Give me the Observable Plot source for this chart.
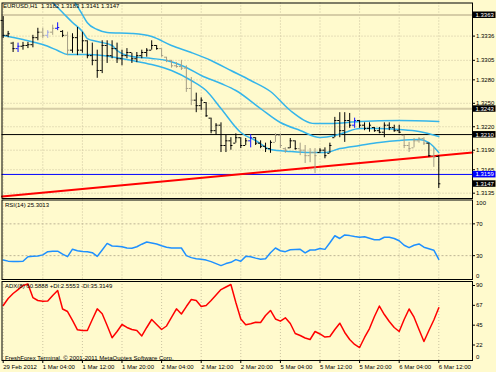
<!DOCTYPE html>
<html><head><meta charset="utf-8">
<script src="https://cdn.jsdelivr.net/npm/d3@7"></script>
<script src="https://cdn.jsdelivr.net/npm/@observablehq/plot@0.6"></script>
<style>
html,body{margin:0;padding:0;background:#fffacd;}
#chart{width:496px;height:372px;overflow:hidden;font-family:"Liberation Sans",Arial,sans-serif;}
#chart svg{display:block;}
</style></head><body><div id="chart"></div>
<script>
// ---------- data ----------
const timeLabels = ["29 Feb 2012","1 Mar 04:00","1 Mar 12:00","1 Mar 20:00","2 Mar 04:00","2 Mar 12:00","2 Mar 20:00","5 Mar 04:00","5 Mar 12:00","5 Mar 20:00","6 Mar 04:00","6 Mar 12:00"];
const high = [1.3361,1.3342,1.3328,1.3327,1.3328,1.3328,1.3337,1.3346,1.3346,1.3343,1.3350,1.3353,1.3343,1.3341,1.3339,1.3347,1.3341,1.3330,1.3327,1.3318,1.3330,1.3330,1.3330,1.3327,1.3318,1.3320,1.3314,1.3315,1.3318,1.3320,1.3330,1.3324,1.3320,1.3309,1.3305,1.3302,1.3305,1.3298,1.3283,1.3263,1.3257,1.3251,1.3231,1.3224,1.3225,1.3209,1.3206,1.3211,1.3206,1.3205,1.3210,1.3206,1.3202,1.3199,1.3202,1.3211,1.3211,1.3193,1.3205,1.3202,1.3199,1.3196,1.3192,1.3192,1.3192,1.3193,1.3199,1.3232,1.3238,1.3238,1.3237,1.3231,1.3228,1.3225,1.3225,1.3219,1.3219,1.3225,1.3225,1.3222,1.3222,1.3209,1.3200,1.3205,1.3206,1.3206,1.3199,1.3193,1.3183];
const low  = [1.3333,1.3334,1.3315,1.3315,1.3318,1.3320,1.3321,1.3330,1.3333,1.3333,1.3337,1.3343,1.3334,1.3311,1.3314,1.3311,1.3314,1.3307,1.3298,1.3282,1.3288,1.3301,1.3307,1.3301,1.3298,1.3307,1.3301,1.3302,1.3307,1.3309,1.3318,1.3318,1.3309,1.3302,1.3295,1.3295,1.3292,1.3264,1.3247,1.3238,1.3241,1.3232,1.3211,1.3209,1.3187,1.3187,1.3190,1.3199,1.3192,1.3196,1.3193,1.3196,1.3192,1.3187,1.3186,1.3200,1.3192,1.3186,1.3192,1.3190,1.3183,1.3173,1.3174,1.3160,1.3186,1.3179,1.3186,1.3206,1.3206,1.3200,1.3218,1.3218,1.3218,1.3215,1.3213,1.3213,1.3211,1.3206,1.3215,1.3213,1.3211,1.3192,1.3187,1.3193,1.3199,1.3196,1.3181,1.3168,1.3141];
const open = [1.3356,1.3337,1.3327,1.3320,1.3323,1.3324,1.3325,1.3334,1.3341,1.3337,1.3341,1.3346,1.3342,1.3337,1.3318,1.3334,1.3318,1.3330,1.3311,1.3305,1.3292,1.3324,1.3311,1.3320,1.3307,1.3311,1.3315,1.3307,1.3311,1.3315,1.3318,1.3324,1.3320,1.3309,1.3305,1.3298,1.3297,1.3295,1.3269,1.3254,1.3247,1.3251,1.3231,1.3215,1.3222,1.3196,1.3202,1.3199,1.3206,1.3196,1.3202,1.3206,1.3199,1.3195,1.3192,1.3200,1.3209,1.3192,1.3193,1.3202,1.3192,1.3190,1.3183,1.3187,1.3187,1.3190,1.3186,1.3206,1.3228,1.3215,1.3228,1.3222,1.3228,1.3222,1.3218,1.3219,1.3215,1.3213,1.3222,1.3219,1.3215,1.3209,1.3196,1.3193,1.3202,1.3205,1.3199,1.3183,1.3182];
const close = [1.3337,1.3339,1.3320,1.3323,1.3324,1.3325,1.3334,1.3341,1.3337,1.3341,1.3346,1.3347,1.3337,1.3318,1.3334,1.3318,1.3330,1.3311,1.3305,1.3292,1.3324,1.3311,1.3320,1.3307,1.3311,1.3315,1.3307,1.3311,1.3315,1.3318,1.3324,1.3320,1.3311,1.3305,1.3298,1.3297,1.3295,1.3269,1.3254,1.3247,1.3254,1.3234,1.3215,1.3222,1.3196,1.3202,1.3196,1.3206,1.3196,1.3202,1.3206,1.3199,1.3195,1.3192,1.3200,1.3209,1.3196,1.3190,1.3202,1.3192,1.3190,1.3183,1.3187,1.3183,1.3190,1.3183,1.3196,1.3228,1.3215,1.3228,1.3222,1.3228,1.3222,1.3218,1.3222,1.3215,1.3213,1.3222,1.3219,1.3215,1.3213,1.3196,1.3192,1.3202,1.3205,1.3199,1.3183,1.3181,1.3147];
const barColor = "kkkbkkkkglgbkgkkkkkkkkkkkkkkkkkkgggggggkkkkkkkkkkkbkkkkgggkkggggkkkkkkkbkkkkkkkkkgggggkgk".split("");
const upperBand = [[14,1.33841],[16,1.33636],[17,1.33530],[19,1.33444],[21,1.33406],[26,1.33393],[30,1.33355],[34,1.33240],[38,1.33150],[42,1.33048],[46,1.32920],[50,1.32792],[54,1.32651],[58,1.32408],[63,1.32241],[66,1.32241],[72,1.32267],[80,1.32280],[88,1.32267]];
const middleBand = [[9,1.33854],[10,1.33790],[12,1.33662],[14,1.33534],[16,1.33419],[17,1.33329],[19,1.33291],[22,1.33240],[23,1.33176],[26,1.33099],[30,1.33074],[33,1.33048],[37,1.32958],[40,1.32856],[44,1.32753],[47,1.32664],[52,1.32433],[56,1.32254],[60,1.32152],[64,1.32062],[67,1.32088],[69,1.32126],[72,1.32177],[76,1.32177],[80,1.32164],[84,1.32139],[88,1.32075]];
const lowerBand = [[0,1.33368],[4,1.33316],[8,1.33252],[11,1.33176],[13,1.33124],[17,1.33124],[20,1.33112],[26,1.33048],[30,1.32996],[34,1.32920],[38,1.32792],[41,1.32664],[44,1.32433],[48,1.32126],[51,1.32024],[54,1.31908],[58,1.31883],[62,1.31870],[65,1.31870],[68,1.31921],[72,1.31960],[76,1.31998],[80,1.32024],[84,1.32036],[86,1.31998],[88,1.31870]];
const trendAnchors = [[0,1.3131],[88,1.3183]];
const priceTicks = [1.3336,1.3305,1.3280,1.3250,1.3220,1.3190,1.3165,1.3135];
const tanLevels = [1.3363,1.3243];
const blackLevel = 1.3210;
const blueLevel = 1.3159;
const lastPrice = 1.3147;
const rsi = [24.4,23.1,22.5,22.5,23,28.7,29.2,29.5,31,35,35.6,35.6,31.9,28.7,38.1,36.2,35.2,35,33.7,29.1,37.1,45.4,42.1,41.9,41.2,39.6,39.4,41.2,44.4,47.1,45.9,44.6,42.5,40.6,39.6,39.6,39.6,30,27.5,26.2,25.6,24.4,22.5,20,17.5,20,21.6,25,22.9,29.1,28.7,26.9,25.6,26.2,33.7,39.6,36.2,35,37.5,37.7,37.9,33.4,37.1,37.1,39.1,37.9,46.2,55,51.6,56,55.2,54,53,53.7,51.9,50,50,53.1,53.1,51.6,48.7,43.1,40,43.1,44.7,40.6,38.7,36.9,25.3];
const rsiHeader = "RSI(14) 25.3013";
const adx = [63.2,71.2,76.9,81.4,86.0,87.7,72.3,68.9,68.1,68.3,74.6,80.3,59.2,56.3,46.1,35.4,34.6,34.6,47.2,59.4,53.7,40.4,26.3,33.5,41.5,38.1,35.8,34.6,28.4,38.1,47.2,41.5,35.8,39.8,49.5,59.4,53.5,62.0,70.0,68.9,62.0,63.2,68.9,75.2,81.4,84.3,87.2,66.6,47.8,41.2,42.3,44.1,43.8,51.8,57.5,47.8,45.3,49.1,42.6,31.2,28.9,26.1,24.4,33.5,30.7,27.2,27.8,35.8,43.0,32.4,24.4,18.7,15.2,26.7,36.9,50.6,62.6,52.9,44.9,38.1,33.5,47.2,59.2,49.8,35.8,22.1,34.6,46.6,60.6];
const adxHeader = "ADX(8) 60.5888 +DI:2.5553 -DI:35.3149";
const copyright = "FreshForex Terminal. © 2001-2011 MetaQuotes Software Corp.";
const rsiLevels = [70,30];
const adxTicks = [90.6,67.95,45.3,22.65];
const adxMin = 0.4;

// ---------- styles ----------
const GRID = "#cbc3a0", TAN = "#d6cda6", BAND = "#35b5ea";
const colorOf = {k:"#000000", g:"#a59e86", b:"#1010ff", l:"#9ea6e6"};
const FONT = 6;
const W = 496, ML = 1.5, MR = 24;
const xDomain = [-0.2424, 94.81];
const timeTicks = d3.range(0, 89, 8);
const fmt4 = d3.format(".4f");

function tagMark(items) {
  return (index, scales, values, dims) => {
    const g = d3.create("svg:g");
    const x0 = dims.width - dims.marginRight + 0.5;
    for (const t of items) {
      const y = scales.y(t.v);
      g.append("rect").attr("x", x0).attr("y", y - 3).attr("width", 23).attr("height", 6.5).attr("fill", t.fill);
      g.append("text").attr("x", x0 + 3).attr("y", y + 0.3).attr("dy", "0.36em")
        .attr("text-anchor", "start").attr("fill", "white").attr("font-size", FONT).text(fmt4(t.v));
    }
    return g.node();
  };
}

const bars = open.map((o, i) => ({i, o, h: high[i], l: low[i], c: close[i], col: colorOf[barColor[i]]}));
const band = arr => arr.map(([i, v]) => ({i, v}));
const slope = (trendAnchors[1][1] - trendAnchors[0][1]) / (trendAnchors[1][0] - trendAnchors[0][0]);
const trend = xDomain.map(i => ({i, v: trendAnchors[0][1] + slope * (i - trendAnchors[0][0])}));

const common = {width: W, marginLeft: ML, marginRight: MR, color: {type: "identity"},
  style: {background: "transparent", fontFamily: "'Liberation Sans', Arial, sans-serif", fontSize: FONT + "px", color: "black"}};

const main = Plot.plot({
  ...common, height: 199, marginTop: 2.5, marginBottom: 1,
  x: {domain: xDomain, axis: null},
  y: {domain: [1.312819, 1.337835], axis: null},
  marks: [
    Plot.gridX({ticks: timeTicks, stroke: GRID, strokeOpacity: 1, strokeDasharray: "1 2"}),
    Plot.gridY({ticks: priceTicks, stroke: GRID, strokeOpacity: 1, strokeDasharray: "1 2"}),
    Plot.ruleY(tanLevels, {stroke: TAN, strokeWidth: 2}),
    Plot.ruleY([blackLevel], {stroke: "black"}),
    Plot.ruleY([blueLevel], {stroke: "#0000ff"}),
    Plot.line(band(upperBand), {x: "i", y: "v", stroke: BAND, curve: "monotone-x", clip: true}),
    Plot.line(band(middleBand), {x: "i", y: "v", stroke: BAND, curve: "monotone-x", clip: true}),
    Plot.line(band(lowerBand), {x: "i", y: "v", stroke: BAND, curve: "monotone-x", clip: true}),
    Plot.line(trend, {x: "i", y: "v", stroke: "#ff0000", strokeWidth: 2}),
    Plot.ruleX(bars, {x: "i", y1: "l", y2: "h", stroke: "col"}),
    Plot.ruleY(bars, {y: "o", x1: d => d.i - 0.42, x2: "i", stroke: "col"}),
    Plot.ruleY(bars, {y: "c", x1: "i", x2: d => d.i + 0.42, stroke: "col"}),
    Plot.frame({stroke: "black"}),
    Plot.axisY({anchor: "right", ticks: priceTicks, tickFormat: fmt4, tickSize: 2, tickPadding: 1.5, fontSize: FONT}),
    tagMark([{v: tanLevels[0], fill: "black"}, {v: tanLevels[1], fill: "black"}, {v: blackLevel, fill: "black"}, {v: blueLevel, fill: "#0000ff"}, {v: lastPrice, fill: "black"}]),
    Plot.text([`EURUSD,H1  ${fmt4(open[88])} ${fmt4(high[88])} ${fmt4(low[88])} ${fmt4(close[88])}`], {frameAnchor: "top-left", dx: 1, dy: 1, lineAnchor: "top", textAnchor: "start", fill: "black", fontSize: FONT})
  ]
});

const rsiPlot = Plot.plot({
  ...common, height: 81, marginTop: 0.5, marginBottom: 1,
  x: {domain: xDomain, axis: null},
  y: {domain: [0, 100], axis: null},
  marks: [
    Plot.gridX({ticks: timeTicks, stroke: GRID, strokeOpacity: 1, strokeDasharray: "1 2"}),
    Plot.ruleY(rsiLevels, {stroke: "#bdb596", strokeDasharray: "2 2"}),
    Plot.line(rsi, {x: (d, i) => i, y: d => d, stroke: "#1e90ff"}),
    Plot.frame({stroke: "black"}),
    Plot.axisY({anchor: "right", ticks: [70, 30], tickSize: 2, tickPadding: 1.5, fontSize: FONT}),
    Plot.axisY({anchor: "right", ticks: [100], tickSize: 0, tickPadding: 3.5, dy: 3, fontSize: FONT}),
    Plot.axisY({anchor: "right", ticks: [0], tickSize: 0, tickPadding: 3.5, dy: -3.5, fontSize: FONT}),
    Plot.text([rsiHeader], {frameAnchor: "top-left", dx: 3, dy: 3, lineAnchor: "top", fill: "black", fontSize: FONT})
  ]
});

const adxPlot = Plot.plot({
  ...common, height: 92, marginTop: 1, marginBottom: 12,
  x: {domain: xDomain, axis: null},
  y: {domain: [adxMin, 90.6], axis: null},
  marks: [
    Plot.gridX({ticks: timeTicks, stroke: GRID, strokeOpacity: 1, strokeDasharray: "1 2"}),
    Plot.line(adx, {x: (d, i) => i, y: d => d, stroke: "#ff0000"}),
    Plot.frame({stroke: "black"}),
    Plot.axisY({anchor: "right", ticks: adxTicks, tickFormat: d => Math.floor(d), tickSize: 2, tickPadding: 1.5, dy: 4, fontSize: FONT}),
    Plot.axisY({anchor: "right", ticks: [adxMin], tickFormat: d => Math.floor(d), tickSize: 0, tickPadding: 3.5, dy: -3.5, fontSize: FONT}),
    Plot.axisX({anchor: "bottom", ticks: timeTicks, tickFormat: i => timeLabels[i / 8], textAnchor: "start", tickSize: 3, tickPadding: 1, fontSize: FONT}),
    Plot.text([adxHeader], {frameAnchor: "top-left", dx: 3, dy: 2, lineAnchor: "top", fill: "black", fontSize: FONT}),
    Plot.text([copyright], {frameAnchor: "bottom-left", dx: 3, dy: -1, lineAnchor: "bottom", fill: "black", fontSize: FONT})
  ]
});

document.getElementById("chart").append(main, rsiPlot, adxPlot);
</script></body></html>
